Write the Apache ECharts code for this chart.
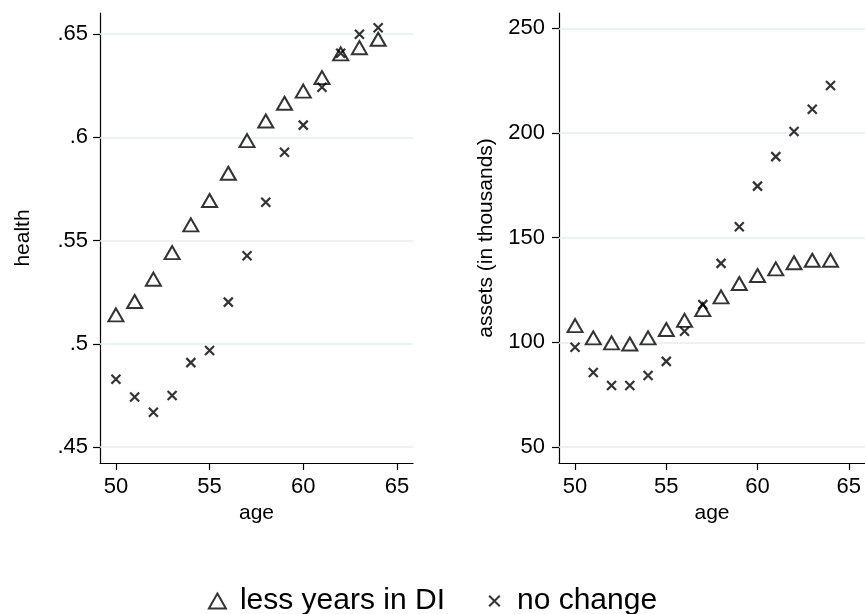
<!DOCTYPE html>
<html>
<head>
<meta charset="utf-8">
<script src="https://cdn.jsdelivr.net/npm/echarts@6/dist/echarts.min.js"></script>
<style>
html,body{margin:0;padding:0;background:#fff;}
#chart{width:865px;height:614px;}
</style>
</head>
<body>
<div id="chart"></div>
<script>
// ---- data ----
var ages = [50, 51, 52, 53, 54, 55, 56, 57, 58, 59, 60, 61, 62, 63, 64];
var healthLess = [0.5140, 0.5205, 0.5313, 0.5442, 0.5576, 0.5694, 0.5826, 0.5984, 0.6079, 0.6165, 0.6224, 0.6289, 0.6404, 0.6434, 0.6475];
var healthNo   = [0.4829, 0.4743, 0.4669, 0.4750, 0.4909, 0.4968, 0.5202, 0.5427, 0.5686, 0.5928, 0.6059, 0.6242, 0.6407, 0.6499, 0.6531];
var assetsLess = [108.0, 102.1, 99.7, 99.2, 102.1, 106.1, 110.5, 115.6, 121.7, 128.1, 131.9, 135.1, 138.0, 139.2, 139.2];
var assetsNo   = [97.6, 85.6, 79.4, 79.4, 84.1, 90.9, 105.3, 118.0, 137.7, 155.2, 174.6, 188.7, 200.7, 211.3, 222.7];
var ageTicks = [50, 55, 60, 65];
var healthTicks = [0.45, 0.5, 0.55, 0.6, 0.65];
var healthTickLabels = ['.45', '.5', '.55', '.6', '.65'];
var assetsTicks = [50, 100, 150, 200, 250];
var seriesNames = ['less years in DI', 'no change'];

function pairs(xs, ys) { return xs.map(function (x, i) { return [x, ys[i]]; }); }

var FONT = '"Liberation Sans", Arial, Helvetica, sans-serif';
var crossPath = 'path://M0,0L10,10M10,0L0,10';
var crossLegendPath = 'path://M-3,-2L-3,-2M0,0L10,10M10,0L0,10M13,12L13,12';
var gridColor = '#e6eef1';

function xAxisDef(gi) {
  return {
    type: 'value', gridIndex: gi, min: gi === 0 ? 49.15 : 49.12, max: gi === 0 ? 65.86 : 65.89,
    name: 'age', nameLocation: 'middle', nameGap: 40,
    nameTextStyle: { fontFamily: FONT, fontSize: 21, color: '#000' },
    axisLine: { show: true, onZero: false, lineStyle: { color: '#000', width: 1.2 } },
    axisTick: { show: true, length: 7, customValues: ageTicks, lineStyle: { color: '#000', width: 1.2 } },
    axisLabel: { customValues: ageTicks, fontFamily: FONT, fontSize: 22, color: '#000', margin: 13 },
    splitLine: { show: false }
  };
}

function gridLines(vals) {
  return {
    silent: true, symbol: 'none', label: { show: false }, z: 1,
    lineStyle: { color: gridColor, type: 'solid', width: 1.5 },
    animation: false,
    data: vals.map(function (v) { return { yAxis: v }; })
  };
}

var option = {
  animation: false,
  backgroundColor: '#fff',
  textStyle: { fontFamily: FONT },
  grid: [
    { left: 100, top: 13, width: 313, height: 450 },
    { left: 559, top: 13, width: 306, height: 450 }
  ],
  xAxis: [xAxisDef(0), xAxisDef(1)],
  yAxis: [
    {
      type: 'value', gridIndex: 0, min: 0.4423, max: 0.6602,
      name: 'health', nameLocation: 'middle', nameGap: 66,
      nameTextStyle: { fontFamily: FONT, fontSize: 21, color: '#000' },
      axisLine: { show: true, onZero: false, lineStyle: { color: '#000', width: 1.2 } },
      axisTick: { show: true, length: 7, customValues: healthTicks, lineStyle: { color: '#000', width: 1.2 } },
      axisLabel: {
        customValues: healthTicks, fontFamily: FONT, fontSize: 22, color: '#000', margin: 12,
        formatter: function (v) {
          for (var i = 0; i < healthTicks.length; i++) { if (Math.abs(healthTicks[i] - v) < 1e-6) return healthTickLabels[i]; }
          return '';
        }
      },
      splitLine: { show: false }
    },
    {
      type: 'value', gridIndex: 1, min: 42.35, max: 257.3,
      name: 'assets (in thousands)', nameLocation: 'middle', nameGap: 62,
      nameTextStyle: { fontFamily: FONT, fontSize: 21, color: '#000' },
      axisLine: { show: true, onZero: false, lineStyle: { color: '#000', width: 1.2 } },
      axisTick: { show: true, length: 7, customValues: assetsTicks, lineStyle: { color: '#000', width: 1.2 } },
      axisLabel: { customValues: assetsTicks, fontFamily: FONT, fontSize: 22, color: '#000', margin: 14 },
      splitLine: { show: false }
    }
  ],
  legend: {
    top: 581, left: 'center', itemGap: 40, itemWidth: 17, itemHeight: 15,
    data: [{ name: seriesNames[0] }, { name: seriesNames[1], icon: crossLegendPath }],
    textStyle: { fontFamily: FONT, fontSize: 30, color: '#000', padding: [0, 0, 0, 9] }
  },
  series: [
    {
      name: seriesNames[0], type: 'scatter', xAxisIndex: 0, yAxisIndex: 0,
      data: pairs(ages, healthLess), symbol: 'triangle', symbolSize: [15, 13], z: 3,
      itemStyle: { color: 'rgba(0,0,0,0)', borderColor: '#000', borderWidth: 2 },
      markLine: gridLines(healthTicks)
    },
    {
      name: seriesNames[1], type: 'scatter', xAxisIndex: 0, yAxisIndex: 0,
      data: pairs(ages, healthNo), symbol: crossPath, symbolSize: 9, z: 4,
      itemStyle: { color: 'rgba(0,0,0,0)', borderColor: '#000', borderWidth: 2.2 }
    },
    {
      name: seriesNames[0], type: 'scatter', xAxisIndex: 1, yAxisIndex: 1,
      data: pairs(ages, assetsLess), symbol: 'triangle', symbolSize: [15, 13], z: 3,
      itemStyle: { color: 'rgba(0,0,0,0)', borderColor: '#000', borderWidth: 2 },
      markLine: gridLines(assetsTicks)
    },
    {
      name: seriesNames[1], type: 'scatter', xAxisIndex: 1, yAxisIndex: 1,
      data: pairs(ages, assetsNo), symbol: crossPath, symbolSize: 9, z: 4,
      itemStyle: { color: 'rgba(0,0,0,0)', borderColor: '#000', borderWidth: 2.2 }
    }
  ]
};

var chart = echarts.init(document.getElementById('chart'), null, { renderer: 'canvas' });
chart.setOption(option);
</script>
</body>
</html>
